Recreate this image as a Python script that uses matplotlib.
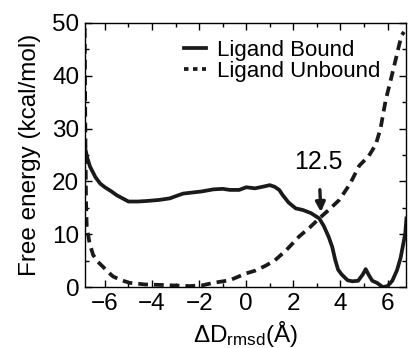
import matplotlib
matplotlib.use("Agg")
import matplotlib.pyplot as plt
from matplotlib.ticker import MultipleLocator

plt.rcParams['font.family'] = ['Liberation Sans', 'DejaVu Sans']
plt.rcParams['mathtext.fontset'] = 'custom'
plt.rcParams['mathtext.rm'] = 'Liberation Sans'
plt.rcParams['mathtext.it'] = 'Liberation Sans'

bound_x = [-6.85, -6.75, -6.63, -6.4, -6.2, -6.0, -5.75, -5.5, -5.25, -5.0, -4.6, -4.23,
           -3.7, -3.24, -3.0, -2.68, -2.3, -1.9, -1.4, -1.0, -0.7, -0.3, 0.0, 0.37,
           0.7, 1.0, 1.2, 1.4, 1.55, 1.8, 2.1, 2.4, 2.75, 3.1, 3.3, 3.5, 3.65, 3.78,
           3.9, 4.05, 4.3, 4.5, 4.75, 4.95, 5.07, 5.2, 5.35, 5.55, 5.8, 6.0, 6.2,
           6.4, 6.55, 6.68, 6.75, 6.8]
bound_y = [26.6, 24.5, 22.8, 20.8, 19.6, 18.9, 18.2, 17.4, 16.8, 16.2, 16.2, 16.3,
           16.5, 16.8, 17.2, 17.7, 17.9, 18.1, 18.5, 18.6, 18.4, 18.4, 18.9, 18.7,
           19.0, 19.3, 19.0, 18.4, 17.4, 16.0, 14.9, 14.6, 14.0, 13.0, 11.5, 9.5, 7.6,
           5.1, 3.3, 2.4, 1.3, 1.1, 1.2, 2.4, 3.4, 2.3, 1.2, 0.8, 0.0, 0.2, 1.2,
           3.2, 5.5, 8.5, 10.2, 13.0]

unbound_x = [-6.86, -6.83, -6.8, -6.77, -6.65, -6.5, -6.3, -6.07, -5.85, -5.65, -5.3,
             -4.94, -4.3, -3.53, -3.0, -2.4, -1.9, -1.4, -0.7, 0.0, 0.37, 0.8, 1.2,
             1.7, 2.25, 2.7, 3.1, 3.5, 3.95, 4.4, 4.8, 5.2, 5.5, 5.7, 5.92, 6.15,
             6.34, 6.5, 6.6, 6.7]
unbound_y = [52.0, 30.0, 16.0, 11.4, 8.3, 6.1, 4.8, 3.8, 2.8, 2.0, 1.3,
             0.8, 0.5, 0.4, 0.3, 0.2, 0.3, 0.8, 1.3, 2.6, 3.1, 4.0, 5.0,
             7.0, 9.6, 11.3, 13.0, 14.6, 16.5, 19.5, 23.0, 24.8, 27.0, 30.0, 35.4, 39.5,
             43.0, 46.0, 47.7, 48.3]

xticks = [-6, -4, -2, 0, 2, 4, 6]
yticks = [0, 10, 20, 30, 40, 50]

fig = plt.figure(figsize=(4.08, 3.48), dpi=100)
ax = fig.add_axes([0.208, 0.175, 0.787, 0.759])

ax.plot(bound_x, bound_y, color='#1a1a1a', lw=2.7, solid_joinstyle='round',
        label='Ligand Bound')
ax.plot(unbound_x, unbound_y, color='#1a1a1a', lw=2.7, dashes=(2.6, 1.6),
        label='Ligand Unbound')

ax.set_xlim(-6.85, 6.78)
ax.set_ylim(0, 50)
ax.set_xticks(xticks)
ax.set_yticks(yticks)
ax.xaxis.set_minor_locator(MultipleLocator(1))
ax.yaxis.set_minor_locator(MultipleLocator(5))
ax.tick_params(which='both', direction='in', top=True, right=True, width=1.0)
ax.tick_params(which='major', length=5, labelsize=17.5, pad=4)
ax.tick_params(which='minor', length=3)
for s in ax.spines.values():
    s.set_linewidth(1.0)

ax.set_ylabel('Free energy (kcal/mol)', fontsize=17.5, labelpad=8)
ax.set_xlabel(r'ΔD$_{\mathrm{rmsd}}$(Å)', fontsize=17.5, labelpad=3)

ax.annotate('12.5', xy=(3.17, 14.2), xytext=(3.07, 23.6), fontsize=18,
            ha='center', va='center',
            arrowprops=dict(arrowstyle='-|>', color='#1a1a1a', lw=2.4,
                            shrinkA=9, shrinkB=0, mutation_scale=14))

leg = ax.legend(loc='upper right', bbox_to_anchor=(0.97, 0.995), frameon=False,
                fontsize=16, handlelength=1.0, handletextpad=0.5,
                labelspacing=0.0, borderaxespad=0.3)
leg.get_lines()[1].set_dashes((1.2, 1.2))

fig.savefig('out.png', dpi=100)
